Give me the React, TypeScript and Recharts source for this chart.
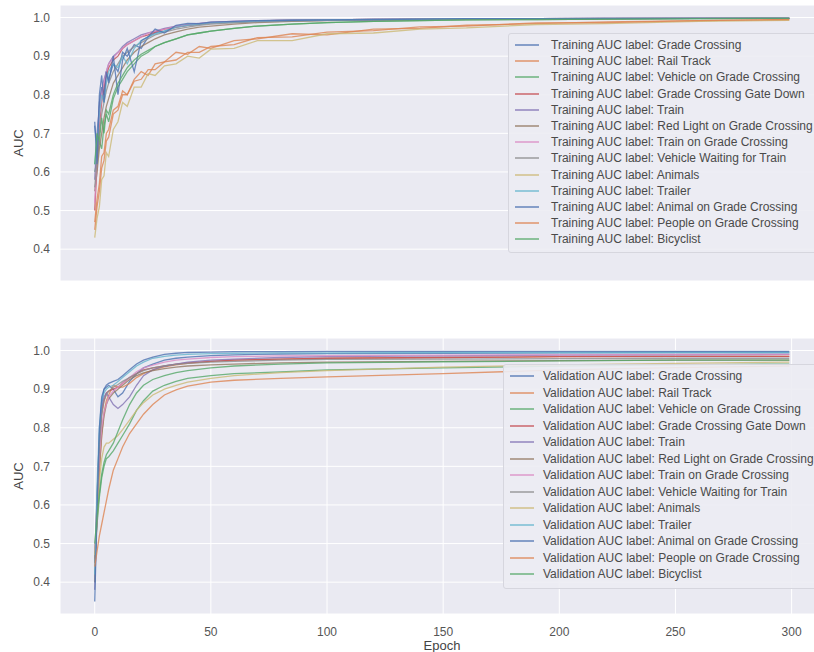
import { LineChart, Line, XAxis, YAxis, CartesianGrid } from "recharts";

const TRAIN_EPOCHS = [0, 1, 2, 3, 4, 5, 6, 8, 10, 12, 14, 17, 20, 23, 26, 30, 35, 40, 45, 50, 60, 70, 85, 100, 120, 140, 160, 190, 220, 260, 299];
const VAL_EPOCHS = [0, 1, 2, 3, 4, 5, 6, 8, 10, 12, 15, 18, 21, 25, 30, 35, 40, 50, 60, 80, 100, 150, 200, 250, 299];

const LABELS = [
  "Grade Crossing",
  "Rail Track",
  "Vehicle on Grade Crossing",
  "Grade Crossing Gate Down",
  "Train",
  "Red Light on Grade Crossing",
  "Train on Grade Crossing",
  "Vehicle Waiting for Train",
  "Animals",
  "Trailer",
  "Animal on Grade Crossing",
  "People on Grade Crossing",
  "Bicyclist",
];

// seaborn "deep" palette, wraps after 10
const COLORS = [
  "#4c72b0", "#dd8452", "#55a868", "#c44e52", "#8172b3",
  "#937860", "#da8bc3", "#8c8c8c", "#ccb974", "#64b5cd",
  "#4c72b0", "#dd8452", "#55a868",
];

// training AUC
const trainGradeCrossing = [0.72, 0.66, 0.78, 0.82, 0.8, 0.86, 0.84, 0.88, 0.86, 0.91, 0.9, 0.93, 0.92, 0.95, 0.96, 0.965, 0.975, 0.98, 0.983, 0.986, 0.988, 0.99, 0.992, 0.993, 0.994, 0.995, 0.996, 0.997, 0.997, 0.998, 0.998];
const trainRailTrack = [0.47, 0.53, 0.57, 0.64, 0.65, 0.7, 0.71, 0.76, 0.77, 0.81, 0.8, 0.84, 0.86, 0.85, 0.88, 0.885, 0.91, 0.905, 0.925, 0.92, 0.94, 0.945, 0.958, 0.955, 0.97, 0.972, 0.98, 0.984, 0.989, 0.992, 0.995];
const trainVehicleOnGC = [0.6, 0.63, 0.68, 0.66, 0.72, 0.75, 0.73, 0.79, 0.82, 0.84, 0.86, 0.88, 0.9, 0.91, 0.925, 0.935, 0.945, 0.955, 0.96, 0.965, 0.972, 0.978, 0.983, 0.987, 0.99, 0.992, 0.994, 0.995, 0.996, 0.997, 0.998];
const trainGateDown = [0.5, 0.62, 0.72, 0.78, 0.82, 0.85, 0.87, 0.89, 0.9, 0.92, 0.93, 0.94, 0.95, 0.955, 0.962, 0.97, 0.975, 0.98, 0.983, 0.986, 0.989, 0.991, 0.993, 0.994, 0.995, 0.996, 0.997, 0.997, 0.998, 0.998, 0.998];
const trainTrain = [0.58, 0.7, 0.77, 0.81, 0.84, 0.86, 0.88, 0.9, 0.91, 0.925, 0.935, 0.945, 0.955, 0.96, 0.965, 0.972, 0.978, 0.982, 0.985, 0.988, 0.99, 0.992, 0.993, 0.994, 0.995, 0.996, 0.997, 0.997, 0.998, 0.998, 0.998];
const trainRedLight = [0.55, 0.6, 0.66, 0.7, 0.74, 0.77, 0.79, 0.83, 0.85, 0.87, 0.89, 0.91, 0.925, 0.935, 0.945, 0.955, 0.963, 0.97, 0.975, 0.978, 0.983, 0.987, 0.99, 0.992, 0.994, 0.995, 0.996, 0.997, 0.997, 0.998, 0.998];
const trainTrainOnGC = [0.52, 0.64, 0.74, 0.8, 0.83, 0.86, 0.88, 0.895, 0.91, 0.92, 0.93, 0.94, 0.95, 0.96, 0.965, 0.97, 0.977, 0.981, 0.984, 0.987, 0.99, 0.991, 0.993, 0.994, 0.995, 0.996, 0.997, 0.997, 0.998, 0.998, 0.998];
const trainVehicleWaiting = [0.56, 0.63, 0.7, 0.75, 0.78, 0.81, 0.83, 0.86, 0.88, 0.9, 0.91, 0.925, 0.935, 0.945, 0.955, 0.962, 0.97, 0.975, 0.98, 0.983, 0.986, 0.989, 0.991, 0.993, 0.994, 0.995, 0.996, 0.997, 0.997, 0.998, 0.998];
const trainAnimals = [0.43, 0.48, 0.51, 0.58, 0.59, 0.65, 0.64, 0.71, 0.73, 0.78, 0.77, 0.82, 0.82, 0.855, 0.85, 0.875, 0.88, 0.9, 0.895, 0.918, 0.92, 0.94, 0.94, 0.958, 0.96, 0.97, 0.973, 0.982, 0.984, 0.99, 0.993];
const trainTrailer = [0.62, 0.68, 0.75, 0.8, 0.78, 0.83, 0.86, 0.88, 0.87, 0.9, 0.88, 0.92, 0.94, 0.95, 0.958, 0.965, 0.975, 0.98, 0.983, 0.986, 0.989, 0.991, 0.993, 0.994, 0.995, 0.996, 0.997, 0.997, 0.998, 0.998, 0.998];
const trainAnimalOnGC = [0.73, 0.62, 0.8, 0.85, 0.78, 0.86, 0.83, 0.9, 0.8, 0.89, 0.92, 0.86, 0.94, 0.95, 0.97, 0.96, 0.98, 0.985, 0.984, 0.988, 0.99, 0.992, 0.993, 0.994, 0.995, 0.996, 0.997, 0.997, 0.998, 0.998, 0.998];
const trainPeople = [0.45, 0.51, 0.55, 0.61, 0.63, 0.68, 0.69, 0.75, 0.76, 0.8, 0.8, 0.835, 0.84, 0.865, 0.865, 0.885, 0.89, 0.91, 0.91, 0.925, 0.93, 0.948, 0.95, 0.962, 0.966, 0.976, 0.978, 0.986, 0.987, 0.992, 0.995];
const trainBicyclist = [0.62, 0.7, 0.68, 0.74, 0.7, 0.76, 0.75, 0.8, 0.83, 0.85, 0.87, 0.89, 0.905, 0.915, 0.925, 0.935, 0.945, 0.955, 0.96, 0.965, 0.972, 0.978, 0.983, 0.987, 0.99, 0.992, 0.994, 0.995, 0.996, 0.997, 0.998];

// validation AUC
const valGradeCrossing = [0.4, 0.62, 0.78, 0.86, 0.9, 0.905, 0.91, 0.9, 0.88, 0.89, 0.92, 0.94, 0.955, 0.965, 0.975, 0.98, 0.983, 0.987, 0.989, 0.991, 0.992, 0.993, 0.994, 0.995, 0.995];
const valRailTrack = [0.46, 0.55, 0.68, 0.78, 0.84, 0.87, 0.885, 0.91, 0.905, 0.905, 0.915, 0.93, 0.94, 0.95, 0.958, 0.963, 0.967, 0.972, 0.975, 0.978, 0.98, 0.982, 0.984, 0.985, 0.985];
const valVehicleOnGC = [0.48, 0.55, 0.62, 0.67, 0.7, 0.72, 0.725, 0.74, 0.76, 0.78, 0.81, 0.845, 0.87, 0.895, 0.91, 0.92, 0.928, 0.935, 0.94, 0.945, 0.95, 0.955, 0.96, 0.963, 0.965];
const valGateDown = [0.45, 0.62, 0.76, 0.84, 0.87, 0.89, 0.895, 0.9, 0.905, 0.915, 0.93, 0.94, 0.95, 0.955, 0.96, 0.965, 0.968, 0.972, 0.975, 0.978, 0.98, 0.982, 0.984, 0.985, 0.985];
const valTrain = [0.38, 0.6, 0.76, 0.85, 0.88, 0.89, 0.88, 0.86, 0.85, 0.86, 0.88, 0.91, 0.935, 0.95, 0.96, 0.965, 0.97, 0.975, 0.978, 0.982, 0.984, 0.986, 0.988, 0.989, 0.99];
const valRedLight = [0.45, 0.58, 0.7, 0.78, 0.83, 0.86, 0.875, 0.89, 0.9, 0.91, 0.925, 0.935, 0.942, 0.948, 0.953, 0.957, 0.96, 0.963, 0.965, 0.968, 0.97, 0.972, 0.974, 0.975, 0.975];
const valTrainOnGC = [0.48, 0.6, 0.72, 0.8, 0.84, 0.86, 0.88, 0.895, 0.905, 0.915, 0.93, 0.945, 0.955, 0.962, 0.97, 0.975, 0.978, 0.982, 0.984, 0.986, 0.987, 0.988, 0.989, 0.99, 0.99];
const valVehicleWaiting = [0.4, 0.6, 0.75, 0.83, 0.87, 0.885, 0.895, 0.905, 0.912, 0.92, 0.93, 0.94, 0.948, 0.955, 0.96, 0.964, 0.967, 0.97, 0.972, 0.975, 0.977, 0.978, 0.979, 0.98, 0.98];
const valAnimals = [0.47, 0.56, 0.66, 0.72, 0.75, 0.76, 0.76, 0.77, 0.78, 0.795, 0.82, 0.845, 0.865, 0.885, 0.9, 0.91, 0.918, 0.928, 0.935, 0.943, 0.948, 0.957, 0.963, 0.967, 0.97];
const valTrailer = [0.42, 0.65, 0.8, 0.87, 0.89, 0.9, 0.905, 0.91, 0.92, 0.93, 0.945, 0.96, 0.97, 0.98, 0.985, 0.988, 0.99, 0.992, 0.993, 0.994, 0.994, 0.995, 0.995, 0.995, 0.995];
const valAnimalOnGC = [0.35, 0.58, 0.8, 0.88, 0.9, 0.91, 0.915, 0.92, 0.925, 0.935, 0.95, 0.965, 0.975, 0.983, 0.99, 0.993, 0.995, 0.996, 0.997, 0.997, 0.998, 0.998, 0.998, 0.998, 0.998];
const valPeople = [0.44, 0.48, 0.52, 0.55, 0.58, 0.61, 0.64, 0.69, 0.72, 0.75, 0.785, 0.81, 0.835, 0.86, 0.885, 0.898, 0.908, 0.918, 0.923, 0.928, 0.932, 0.94, 0.95, 0.956, 0.96];
const valBicyclist = [0.5, 0.57, 0.63, 0.68, 0.71, 0.73, 0.74, 0.76, 0.79, 0.82, 0.86, 0.89, 0.91, 0.925, 0.935, 0.943, 0.948, 0.955, 0.96, 0.965, 0.968, 0.971, 0.973, 0.975, 0.975];

const TRAIN_SERIES = [
  trainGradeCrossing, trainRailTrack, trainVehicleOnGC, trainGateDown, trainTrain,
  trainRedLight, trainTrainOnGC, trainVehicleWaiting, trainAnimals, trainTrailer,
  trainAnimalOnGC, trainPeople, trainBicyclist,
];
const VAL_SERIES = [
  valGradeCrossing, valRailTrack, valVehicleOnGC, valGateDown, valTrain,
  valRedLight, valTrainOnGC, valVehicleWaiting, valAnimals, valTrailer,
  valAnimalOnGC, valPeople, valBicyclist,
];

const X_TICKS = [0, 50, 100, 150, 200, 250, 300];
const Y_TICKS = [0.4, 0.5, 0.6, 0.7, 0.8, 0.9, 1.0];
const X_DOMAIN = [-14.95, 313.95];
const Y_DOMAIN = [0.3175, 1.0325];

const FONT = "'Liberation Sans', Arial, sans-serif";
const TICK_STYLE = { fontSize: 12, fill: "#555", fontFamily: FONT };
const LABEL_STYLE = { fontSize: 13, fill: "#444", fontFamily: FONT };

function toRows(epochs: number[], series: number[][]) {
  return epochs.map((epoch, i) => {
    const row: Record<string, number> = { epoch };
    series.forEach((s, k) => {
      row["s" + k] = s[i];
    });
    return row;
  });
}

const trainRows = toRows(TRAIN_EPOCHS, TRAIN_SERIES);
const valRows = toRows(VAL_EPOCHS, VAL_SERIES);

function LegendBox({
  prefix,
  left,
  top,
  textLeft,
  rowHeight,
}: {
  prefix: string;
  left: number;
  top: number;
  textLeft: number;
  rowHeight: number;
}) {
  return (
    <div
      style={{
        position: "absolute",
        left,
        top,
        width: 330,
        padding: "3px 0 5px 0",
        background: "rgba(236,236,243,0.9)",
        border: "1px solid #d6d6de",
        borderRadius: 3,
        fontFamily: FONT,
        fontSize: 12,
        color: "#4a4a4a",
      }}
    >
      {LABELS.map((name, i) => (
        <div key={name} style={{ height: rowHeight, display: "flex", alignItems: "center", whiteSpace: "nowrap" }}>
          <svg width={24} height={4} style={{ marginLeft: 6, flexShrink: 0, display: "block" }}>
            <line x1={0} y1={2} x2={24} y2={2} stroke={COLORS[i]} strokeWidth={1.5} strokeOpacity={0.85} />
          </svg>
          <span style={{ marginLeft: textLeft }}>
            {prefix} AUC label: {name}
          </span>
        </div>
      ))}
    </div>
  );
}

function Panel({ rows, showX }: { rows: Record<string, number>[]; showX: boolean }) {
  return (
    <LineChart
      width={830}
      height={showX ? 319 : 281}
      data={rows}
      margin={{ top: 5, right: 6, bottom: 0, left: 0 }}
    >
      <CartesianGrid stroke="#ffffff" strokeWidth={1} fill="#eaeaf2" />
      <XAxis
        dataKey="epoch"
        type="number"
        domain={X_DOMAIN}
        ticks={X_TICKS}
        allowDataOverflow
        axisLine={false}
        tickLine={false}
        tickSize={0}
        tickMargin={13}
        tick={showX ? TICK_STYLE : false}
        height={showX ? 38 : 0}
        label={showX ? { value: "Epoch", position: "insideBottom", offset: 2, style: LABEL_STYLE } : undefined}
      />
      <YAxis
        type="number"
        domain={Y_DOMAIN}
        ticks={Y_TICKS}
        allowDataOverflow
        width={60}
        axisLine={false}
        tickLine={false}
        tickSize={0}
        tickMargin={10}
        tick={TICK_STYLE}
        tickFormatter={(v: number) => v.toFixed(1)}
        label={{ value: "AUC", angle: -90, position: "center", dx: -12, style: LABEL_STYLE }}
      />
      {LABELS.map((name, i) => (
        <Line
          key={name}
          type="linear"
          dataKey={"s" + i}
          stroke={COLORS[i]}
          strokeWidth={1.3}
          strokeOpacity={0.8}
          dot={false}
          isAnimationActive={false}
        />
      ))}
    </LineChart>
  );
}

export default function App() {
  return (
    <div
      style={{
        position: "absolute",
        left: 0,
        top: 0,
        width: 814,
        height: 652,
        overflow: "hidden",
        background: "#fff",
      }}
    >
      <div style={{ position: "absolute", left: 0, top: 0 }}>
        <Panel rows={trainRows} showX={false} />
      </div>
      <div style={{ position: "absolute", left: 0, top: 333 }}>
        <Panel rows={valRows} showX={true} />
      </div>
      <LegendBox prefix="Training" left={508} top={33} textLeft={12} rowHeight={16.2} />
      <LegendBox prefix="Validation" left={503} top={364} textLeft={9} rowHeight={16.5} />
    </div>
  );
}
